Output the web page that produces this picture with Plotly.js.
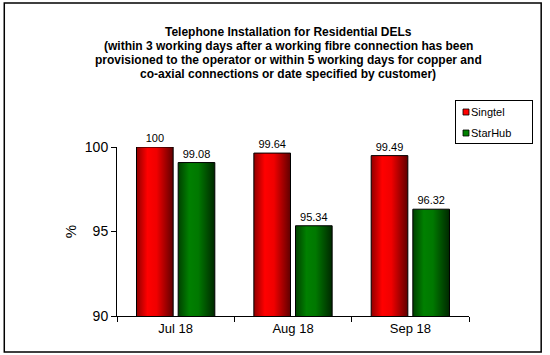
<!DOCTYPE html>
<html>
<head>
<meta charset="utf-8">
<script src="https://cdn.plot.ly/plotly-3.0.1.min.js"></script>
<style>
html,body{margin:0;padding:0;background:#fff;}
#chart{width:550px;height:355px;}
</style>
</head>
<body>
<div id="chart"></div>
<script>
var categories = ["Jul 18", "Aug 18", "Sep 18"];
var singtel = [100, 99.64, 99.49];
var starhub = [99.08, 95.34, 96.32];
var seriesNames = ["Singtel", "StarHub"];
var titleLines = [
  "Telephone Installation for Residential DELs",
  "(within 3 working days after a working fibre connection has been",
  "provisioned to the operator or within 5 working days for copper and",
  "co-axial connections or date specified by customer)"
];
var yTickVals = [90, 95, 100];

var font = "Liberation Sans, Arial, sans-serif";

function fmt(v){ return String(v); }

var traces = [
  {type:"bar", name:seriesNames[0], x:categories, y:singtel,
   text:singtel.map(fmt), textposition:"outside", cliponaxis:false,
   textfont:{family:font,size:11,color:"#000"},
   marker:{color:"#ff0000", line:{color:"#000", width:1}}},
  {type:"bar", name:seriesNames[1], x:categories, y:starhub,
   text:starhub.map(fmt), textposition:"outside", cliponaxis:false,
   textfont:{family:font,size:11,color:"#000"},
   marker:{color:"#008000", line:{color:"#000", width:1}}}
];

var annotations = titleLines.map(function(t,i){
  return {text:"<b>"+t+"</b>", xref:"paper", yref:"paper", x:(290-117)/356,
    y:(316-(32+i*14))/169, xanchor:"center", yanchor:"middle", showarrow:false,
    font:{family:font,size:12,color:"#000"}};
});

var layout = {
  width:550, height:355,
  margin:{l:117, r:77, t:147, b:39, pad:0},
  paper_bgcolor:"#fff", plot_bgcolor:"#fff",
  font:{family:font, color:"#000"},
  barmode:"group", bargap:0.29, bargroupgap:0.12,
  showlegend:true,
  legend:{x:(454-117)/356, y:(316-99)/169, xanchor:"left", yanchor:"top",
    bordercolor:"#000", borderwidth:1, bgcolor:"#fff",
    font:{family:font,size:11,color:"#000"}, tracegroupgap:0, itemwidth:30},
  xaxis:{type:"category", showline:true, linecolor:"#000", linewidth:1,
    ticks:"outside", ticklen:5, tickcolor:"#000", tickson:"boundaries",
    tickfont:{family:font,size:13,color:"#000"}, showgrid:false, zeroline:false},
  yaxis:{range:[90,100], tickvals:yTickVals, ticktext:yTickVals.map(String),
    showline:true, linecolor:"#000", linewidth:1, ticks:"outside", ticklen:5,
    tickcolor:"#000", tickfont:{family:font,size:14,color:"#000"},
    showgrid:false, zeroline:false,
    title:{text:"%", font:{family:font,size:15,color:"#000"}, standoff:4}},
  annotations:annotations,
  shapes:[{type:"rect", xref:"paper", yref:"paper",
    x0:(3-117)/356, x1:(546-117)/356, y0:(316-352)/169, y1:(316-3)/169,
    line:{color:"#000", width:1.5}, fillcolor:"rgba(0,0,0,0)", layer:"above"}]
};

function addT(el, t){
  var cur = el.getAttribute("transform") || "";
  el.setAttribute("transform", t.pre + " " + cur + " " + (t.post||""));
}

Plotly.newPlot("chart", traces, layout, {displayModeBar:false, staticPlot:true}).then(function(gd){
  // apply horizontal shading gradients to bars
  var svg = gd.querySelector("svg.main-svg");
  var ns = "http://www.w3.org/2000/svg";
  var defs = svg.querySelector("defs") || svg.insertBefore(document.createElementNS(ns,"defs"), svg.firstChild);
  function grad(id, stops){
    var g = document.createElementNS(ns,"linearGradient");
    g.setAttribute("id", id); g.setAttribute("x1","0"); g.setAttribute("x2","1");
    g.setAttribute("y1","0"); g.setAttribute("y2","0");
    stops.forEach(function(s){
      var st = document.createElementNS(ns,"stop");
      st.setAttribute("offset", s[0]); st.setAttribute("stop-color", s[1]);
      g.appendChild(st);
    });
    defs.appendChild(g);
  }
  grad("gradRed", [["0","#900000"],["0.3","#ff0000"],["0.55","#f00000"],["1","#600000"]]);
  grad("gradGreen", [["0","#004000"],["0.3","#008000"],["0.55","#007800"],["1","#002800"]]);
  var ids = ["gradRed","gradGreen"];
  gd.querySelectorAll(".barlayer .trace").forEach(function(tr, i){
    tr.querySelectorAll("path").forEach(function(p){
      p.style.fill = "url(#"+ids[i%2]+")";
    });
  });

  // compact legend like the original (small squares, tight box)
  var leg = gd.querySelector("g.legend");
  if (!leg) return;
  var bg = leg.querySelector("rect.bg");
  var L = 455, T = 100, W = 77, H = 43;
  if (bg) {
    var r = bg.getBoundingClientRect();
    bg.setAttribute("x", (parseFloat(bg.getAttribute("x"))||0) + (L - r.left));
    bg.setAttribute("y", (parseFloat(bg.getAttribute("y"))||0) + (T - r.top));
    bg.setAttribute("width", W);
    bg.setAttribute("height", H);
  }
  leg.querySelectorAll("g.traces").forEach(function(tr, i){
    var cyT = 112 + 21*i;
    var sym = tr.querySelector(".legendpoints path");
    if (sym) {
      var sb = sym.getBoundingClientRect();
      var cx = sb.left + sb.width/2, cy = sb.top + sb.height/2;
      addT(sym, {pre:"translate(" + (466 - cx) + "," + (cyT - cy) + ")", post:"scale(0.5)"});
      sym.style.strokeWidth = "1.6px";
      sym.style.stroke = "#000";
    }
    var tx = tr.querySelector("text.legendtext");
    if (tx) {
      var tb = tx.getBoundingClientRect();
      addT(tx, {pre:"translate(" + (471 - tb.left) + "," + (cyT - (tb.top + tb.height/2)) + ")"});
    }
  });
});
</script>
</body>
</html>
